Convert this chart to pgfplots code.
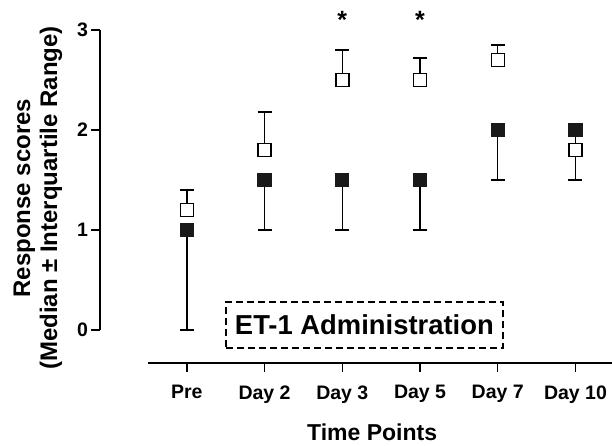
\documentclass[border=0pt]{standalone}
\usepackage{fontspec}
\setmainfont{Liberation Sans}
\usepackage{pgfplots}
\usepackage{pgfplotstable}
\pgfplotsset{compat=1.18}

% open squares: median with upper quartile
\pgfplotstableread{
x y ep
0 1.2 0.20
1 1.8 0.38
2 2.5 0.30
3 2.5 0.22
4 2.7 0.15
5 1.8 0.00
}\opendata

% filled squares: median with lower quartile
\pgfplotstableread{
x y em
0 1.0 1.0
1 1.5 0.5
2 1.5 0.5
3 1.5 0.5
4 2.0 0.5
5 2.0 0.5
}\filleddata

\begin{document}
\begin{tikzpicture}
\begin{axis}[
  scale only axis, width=464pt, height=300pt,
  xmin=-0.5, xmax=5.47, ymin=0, ymax=3,
  axis x line=bottom, axis y line=left,
  axis x line shift=33pt, axis y line shift=48pt,
  axis line style={line width=1.3pt, -},
  xtick={0,...,5}, xticklabels={Pre,Day 2,Day 3,Day 5,Day 7,Day 10},
  ytick={0,1,2,3},
  tick align=outside, major tick length=9pt,
  tick style={line width=1.3pt, black},
  ticklabel style={font=\fontsize{19.5}{21}\selectfont\bfseries},
  xticklabel style={yshift=-10pt},
  yticklabel style={xshift=0.5pt},
  /pgf/number format/assume math mode=true,
  xlabel={Time Points},
  xlabel style={font=\fontsize{23}{24}\selectfont\bfseries, at={(axis description cs:0.483,-0.367)}, anchor=base},
  ylabel={Response scores\\(Median ± Interquartile Range)},
  ylabel style={font=\fontsize{24}{27}\selectfont\bfseries, align=center, at={(axis description cs:-0.237,0.44)}, anchor=center, rotate=0},
  clip=false,
]
\addplot[only marks, mark=square*, mark size=6.5pt,
  mark options={fill=white, draw=black, line width=1.4pt},
  error bars/.cd, y dir=plus, y explicit,
  error bar style={line width=1.3pt, black},
  error mark options={rotate=90, mark size=7pt, line width=1.3pt, black}]
  table[x=x, y=y, y error plus=ep] {\opendata};
\addplot[only marks, mark=square*, mark size=6.5pt,
  mark options={fill=black!90, draw=black!90, line width=1.3pt},
  error bars/.cd, y dir=minus, y explicit,
  error bar style={line width=1.3pt, black},
  error mark options={rotate=90, mark size=7pt, line width=1.3pt, black}]
  table[x=x, y=y, y error minus=em] {\filleddata};
\addplot[only marks, mark=text,
  text mark={\fontsize{25}{25}\selectfont\bfseries *}]
  coordinates {(2,3.10) (3,3.10)};
\node[draw, line width=2pt, dash pattern=on 7pt off 4pt,
  minimum width=277pt, minimum height=46pt, inner sep=0pt,
  font=\fontsize{27.4}{29}\selectfont\bfseries]
  at (axis cs:2.284,0.05) {ET-1 Administration};
\end{axis}
\pgfresetboundingbox
\path[use as bounding box] ([xshift=-148pt,yshift=-115pt]current axis.south west) rectangle ([yshift=30pt]current axis.north east);
\end{tikzpicture}
\end{document}
